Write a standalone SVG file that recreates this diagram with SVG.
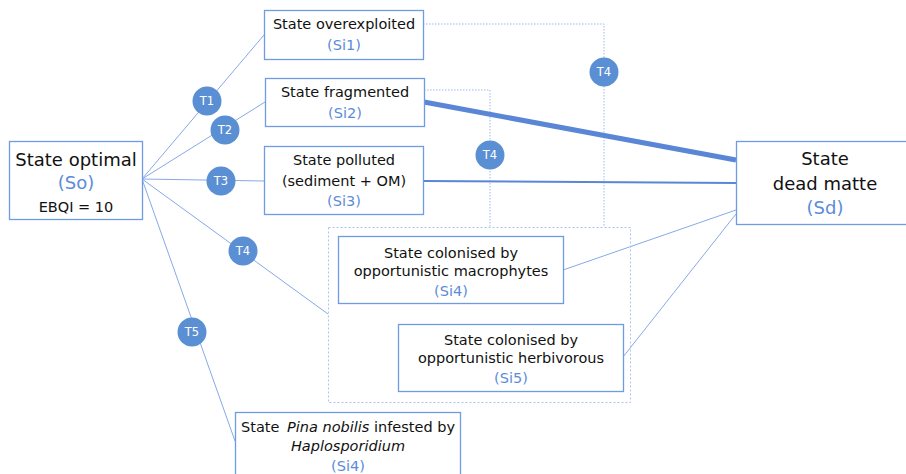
<svg xmlns="http://www.w3.org/2000/svg" width="906" height="474" viewBox="0 0 906 474">
<style>
text{font-family:"DejaVu Sans",sans-serif;fill:#111;text-anchor:middle}
.b{fill:#fff;stroke:#6f9be0;stroke-width:1.3}
.s{font-size:14.5px}
.L{font-size:18px}
.c{fill:#5b8fd4}
.id{fill:#5b8cd8}
.t{font-size:11.5px;fill:#fff}
.ln{stroke:#86a9e8;stroke-width:1;fill:none}
.dt{stroke:#9dbbee;stroke-width:1;stroke-dasharray:1.5 1.5;fill:none}
.ct{fill:none;stroke:#aac4f0;stroke-width:1;stroke-dasharray:2 2}
</style>
<rect width="906" height="474" fill="#fff"/>
<g id="connectors">
<polyline class="dt" points="423,24 604,24 604,227"/>
<polyline class="dt" points="424,90 490,90 490,227"/>
<line class="ln" x1="142" y1="179" x2="264" y2="35"/>
<line class="ln" x1="142" y1="179" x2="265" y2="102"/>
<line class="ln" x1="142" y1="179" x2="264" y2="181"/>
<line class="ln" x1="142" y1="179" x2="328" y2="314"/>
<line class="ln" x1="142" y1="179" x2="235" y2="441"/>
<line x1="424" y1="102" x2="736" y2="160" stroke="#5a86d6" stroke-width="5"/>
<line x1="423" y1="181" x2="736" y2="183" stroke="#5a86d6" stroke-width="2"/>
<line class="ln" x1="563" y1="270" x2="736" y2="210"/>
<line class="ln" x1="623" y1="357" x2="736" y2="214"/>
</g>
<g id="container"><rect class="ct" x="328.5" y="227.5" width="302" height="175"/></g>
<g id="So">
<rect class="b" x="9.5" y="141.5" width="133" height="78"/>
<text class="L" x="76" y="166">State optimal</text>
<text class="L id" x="76" y="189">(So)</text>
<text class="s" x="76" y="212">EBQI = 10</text>
</g>
<g id="Si1">
<rect class="b" x="264.5" y="10.5" width="159" height="49"/>
<text class="s" x="344" y="29">State overexploited</text>
<text class="s id" x="344" y="50">(Si1)</text>
</g>
<g id="Si2">
<rect class="b" x="265.5" y="78.5" width="159" height="48"/>
<text class="s" x="345" y="97">State fragmented</text>
<text class="s id" x="345" y="118">(Si2)</text>
</g>
<g id="Si3">
<rect class="b" x="264.5" y="146.5" width="159" height="68"/>
<text class="s" x="344" y="165">State polluted</text>
<text class="s" x="344" y="186">(sediment + OM)</text>
<text class="s id" x="344" y="206">(Si3)</text>
</g>
<g id="Sd">
<rect class="b" x="736.5" y="141.5" width="175" height="83"/>
<text class="L" x="825" y="165">State</text>
<text class="L" x="825" y="190">dead matte</text>
<text class="L id" x="825" y="214">(Sd)</text>
</g>
<g id="Si4">
<rect class="b" x="338.5" y="236.5" width="225" height="67"/>
<text class="s" x="451" y="258">State colonised by</text>
<text class="s" x="451" y="276">opportunistic macrophytes</text>
<text class="s id" x="451" y="296">(Si4)</text>
</g>
<g id="Si5">
<rect class="b" x="398.5" y="324.5" width="225" height="67"/>
<text class="s" x="511" y="345">State colonised by</text>
<text class="s" x="511" y="363">opportunistic herbivorous</text>
<text class="s id" x="511" y="383">(Si5)</text>
</g>
<g id="Pina">
<rect class="b" x="235.5" y="412.5" width="225" height="70"/>
<text class="s" x="348" y="432">State <tspan font-style="italic" dx="3">Pina nobilis</tspan> infested by</text>
<text class="s" x="348" y="451" font-style="italic">Haplosporidium</text>
<text class="s id" x="348" y="471">(Si4)</text>
</g>
<g id="T1"><circle class="c" cx="207" cy="101" r="14.5"/><text class="t" x="207" y="105">T1</text></g>
<g id="T2"><circle class="c" cx="225" cy="130" r="14.5"/><text class="t" x="225" y="134">T2</text></g>
<g id="T3"><circle class="c" cx="221" cy="181" r="14.5"/><text class="t" x="221" y="185">T3</text></g>
<g id="T4a"><circle class="c" cx="243" cy="251" r="14.5"/><text class="t" x="243" y="255">T4</text></g>
<g id="T5"><circle class="c" cx="192" cy="332" r="14.5"/><text class="t" x="192" y="336">T5</text></g>
<g id="T4b"><circle class="c" cx="490" cy="155" r="14.5"/><text class="t" x="490" y="159">T4</text></g>
<g id="T4c"><circle class="c" cx="604" cy="72" r="14.5"/><text class="t" x="604" y="76">T4</text></g>
</svg>
